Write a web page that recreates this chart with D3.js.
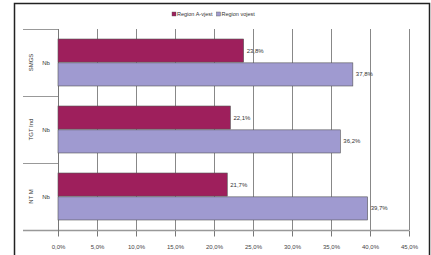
<!DOCTYPE html>
<html>
<head>
<meta charset="utf-8">
<title>Bars</title>
<style>
  body { margin: 0; background: #fff; }
  text { font-family: "Liberation Sans", Arial, sans-serif; fill: #333; }
</style>
</head>
<body>
<script src="https://cdn.jsdelivr.net/npm/d3@7/dist/d3.min.js"></script>
<script>
// data
var groups = ["SMGS", "TGT Ind", "NT M"];
var subLabel = "Nb";
var seriesNames = ["Region A-vjest", "Region vojest"];
var seriesA = [23.8, 22.1, 21.7];
var seriesB = [37.8, 36.2, 39.7];
var ticks = [0, 5, 10, 15, 20, 25, 30, 35, 40, 45];
var colors = ["#9e1f5c", "#9f9ad0"];

var W = 431, H = 255;
var svg = d3.select("body").append("svg")
  .attr("width", W).attr("height", H);

// frame
svg.append("rect")
  .attr("x", 14.5).attr("y", 3.5).attr("width", 415).attr("height", 260)
  .attr("fill", "#fff").attr("stroke", "#222").attr("stroke-width", 1.5);

var x = d3.scaleLinear().domain([0, 45]).range([58, 409]);
var y = d3.scaleBand().domain(groups).range([29, 230]);
var inner = d3.scaleBand().domain([0, 1]).range([0, y.bandwidth()]).paddingInner(0.03).paddingOuter(0.42);

function fmt(v) { return v.toFixed(1).replace(".", ",") + "%"; }

// grid
svg.append("g").selectAll("line").data(ticks.slice(1)).enter().append("line")
  .attr("x1", d => x(d) + 0.5).attr("x2", d => x(d) + 0.5)
  .attr("y1", 29).attr("y2", 230)
  .attr("stroke", "#888").attr("stroke-width", 1);

// bottom axis
var xAxis = d3.axisBottom(x).tickValues(ticks).tickSize(6).tickFormat(fmt);
var gx = svg.append("g").attr("transform", "translate(0,230.5)").call(xAxis);
gx.select(".domain").remove();
gx.selectAll(".tick line").attr("stroke", "#777");
gx.selectAll("text").attr("font-size", 6).attr("dy", "1.6em").style("fill", "#444");
svg.append("line").attr("x1", 23).attr("x2", 409).attr("y1", 230.5).attr("y2", 230.5)
  .attr("stroke", "#999").attr("stroke-width", 1.5);

// left axis + group separators
svg.append("line").attr("x1", 58.5).attr("x2", 58.5).attr("y1", 29).attr("y2", 236)
  .attr("stroke", "#777");
svg.append("g").selectAll("line").data(groups).enter().append("line")
  .attr("x1", 23).attr("x2", 58).attr("y1", d => y(d) + 0.5).attr("y2", d => y(d) + 0.5)
  .attr("stroke", "#999").attr("stroke-width", 1.2);

// bars
var rows = groups.map(function(g, i) { return {g: g, vals: [seriesA[i], seriesB[i]]}; });
var grp = svg.selectAll(".grp").data(rows).enter().append("g")
  .attr("transform", d => "translate(0," + y(d.g) + ")");

grp.selectAll("rect").data(d => d.vals).enter().append("rect")
  .attr("x", x(0)).attr("y", (d, i) => inner(i))
  .attr("width", d => x(d) - x(0)).attr("height", inner.bandwidth())
  .attr("fill", (d, i) => colors[i]).attr("stroke", "#555").attr("stroke-width", 0.6);

grp.selectAll(".val").data(d => d.vals).enter().append("text")
  .attr("x", d => x(d) + 3).attr("y", (d, i) => inner(i) + inner.bandwidth() / 2 + 2)
  .attr("font-size", 6).text(fmt);

// category labels
grp.append("text")
  .attr("transform", "translate(33," + (y.bandwidth() / 2) + ") rotate(-90)")
  .attr("text-anchor", "middle").attr("font-size", 6).text(d => d.g);
grp.append("text")
  .attr("x", 46).attr("y", y.bandwidth() / 2 + 2)
  .attr("text-anchor", "middle").attr("font-size", 6).text(subLabel);

// legend
var leg = svg.append("g").attr("transform", "translate(172,16)");
var lx = 0;
seriesNames.forEach(function(n, i) {
  leg.append("rect").attr("x", lx).attr("y", -4).attr("width", 4).attr("height", 4)
    .attr("fill", colors[i]).attr("stroke", "#555").attr("stroke-width", 0.4);
  var t = leg.append("text").attr("x", lx + 5).attr("y", 0).attr("font-size", 5.5).text(n);
  lx += 5 + t.node().getComputedTextLength() + 4;
});
</script>
</body>
</html>
